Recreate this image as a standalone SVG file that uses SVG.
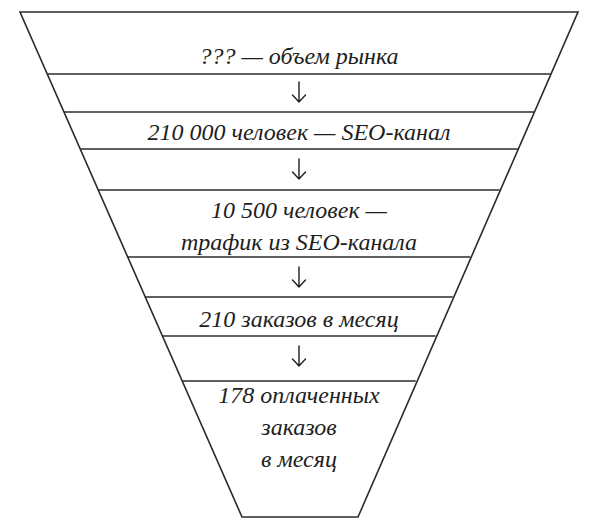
<svg xmlns="http://www.w3.org/2000/svg" width="599" height="531" viewBox="0 0 599 531">
<style>
.ln{stroke:#2b2b2b;stroke-width:1.6;fill:none}
.t{font-family:"Liberation Serif",serif;font-style:italic;font-size:24px;fill:#1e1e1e;text-anchor:middle}
.ar{stroke:#1e1e1e;stroke-width:1.4;fill:none;stroke-linecap:round;stroke-linejoin:miter}
</style>
<rect width="599" height="531" fill="#fff"/>
<g id="funnel">
<polygon class="ln" points="20,12 578,12 358,517 242,517"/>
<line class="ln" x1="47.3" y1="74" x2="550.7" y2="74"/>
<line class="ln" x1="64" y1="112" x2="534" y2="112"/>
<line class="ln" x1="80.2" y1="149" x2="517.8" y2="149"/>
<line class="ln" x1="98.2" y1="190" x2="499.8" y2="190"/>
<line class="ln" x1="127.7" y1="257" x2="470.3" y2="257"/>
<line class="ln" x1="145.3" y1="297" x2="452.7" y2="297"/>
<line class="ln" x1="162.4" y1="336" x2="435.6" y2="336"/>
<line class="ln" x1="182.2" y1="381" x2="415.8" y2="381"/>
</g>
<g id="stage1"><text class="t" x="299" y="64">??? — объем рынка</text></g>
<g id="stage2"><text class="t" x="299" y="140">210 000 человек — SEO-канал</text></g>
<g id="stage3"><text class="t" x="299" y="218">10 500 человек —</text><text class="t" x="299" y="250">трафик из SEO-канала</text></g>
<g id="stage4"><text class="t" x="299" y="327">210 заказов в месяц</text></g>
<g id="stage5"><text class="t" x="299" y="403">178 оплаченных</text><text class="t" x="299" y="435">заказов</text><text class="t" x="299" y="467">в месяц</text></g>
<g id="connectors">
<path class="ar" d="M299,82V102M292.5,95L299,102L305.5,95"/>
<path class="ar" d="M299,159V179M292.5,172L299,179L305.5,172"/>
<path class="ar" d="M299,267V287M292.5,280L299,287L305.5,280"/>
<path class="ar" d="M299,346V366M292.5,359L299,366L305.5,359"/>
</g>
</svg>
